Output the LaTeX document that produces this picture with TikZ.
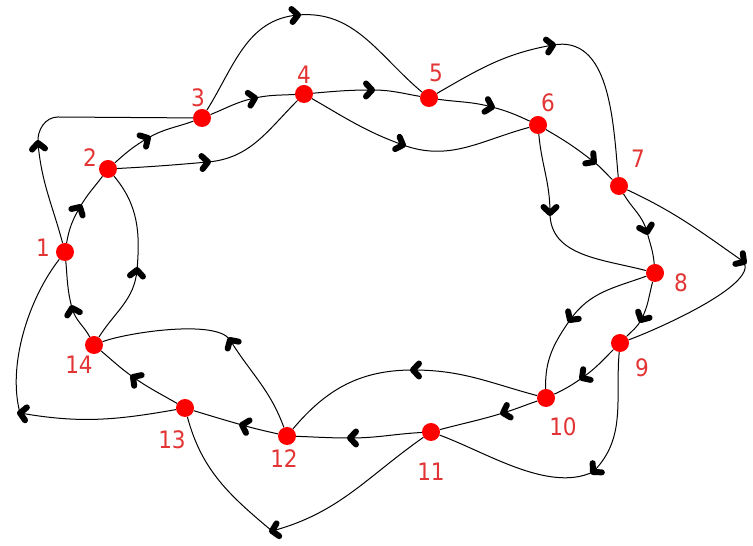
\documentclass[tikz,border=0pt]{standalone}
\usepackage{fontspec}
\newfontfamily\lblfont{DejaVu Sans Condensed}
\definecolor{lblred}{RGB}{226,52,52}
\pgfdeclarelayer{bg}
\pgfsetlayers{bg,main}
\tikzset{
  dot/.style={circle,fill=red,minimum size=18pt,inner sep=0pt},
  lbl/.style={text=lblred,font=\lblfont\fontsize{24}{24}\selectfont,inner sep=0pt,anchor=center},
  wire/.style={line width=1pt,black},
  chev/.pic={\draw[black,line width=6pt,line cap=round,line join=round] (-6,6.5) -- (0,0) -- (-6,-6.5);},
}
\begin{document}
\begin{tikzpicture}[x=1pt,y=1pt]
\useasboundingbox (0,0) rectangle (753,546);
% nodes
\node[dot] (n1) at (65,294) {};
\node[dot] (n2) at (108,377) {};
\node[dot] (n3) at (202,428) {};
\node[dot] (n4) at (304,452) {};
\node[dot] (n5) at (429,448) {};
\node[dot] (n6) at (538,421) {};
\node[dot] (n7) at (619,360) {};
\node[dot] (n8) at (655,273) {};
\node[dot] (n9) at (620,203) {};
\node[dot] (n10) at (546,148) {};
\node[dot] (n11) at (431,114) {};
\node[dot] (n12) at (287,110) {};
\node[dot] (n13) at (185,138) {};
\node[dot] (n14) at (94,201) {};
% labels
\node[lbl] (l1) at (43,298) {1};
\node[lbl] (l2) at (90,388) {2};
\node[lbl] (l3) at (198,448) {3};
\node[lbl] (l4) at (304,471) {4};
\node[lbl] (l5) at (436,473) {5};
\node[lbl] (l6) at (548,443) {6};
\node[lbl] (l7) at (638,387) {7};
\node[lbl] (l8) at (681,263) {8};
\node[lbl] (l9) at (642,178) {9};
\node[lbl] (l10) at (563,119) {10};
\node[lbl] (l11) at (431,74) {11};
\node[lbl] (l12) at (284,87) {12};
\node[lbl] (l13) at (172,106) {13};
\node[lbl] (l14) at (79,181) {14};
% arrow points, direct edges
\coordinate (a12) at (80,339);
\coordinate (a23) at (148,408);
\coordinate (a34) at (255,448);
\coordinate (a45) at (372,456);
\coordinate (a56) at (492,439);
\coordinate (a67) at (594,384);
\coordinate (a78) at (647,314);
\coordinate (a89) at (641,226);
\coordinate (a910) at (582,168);
\coordinate (a1011) at (503,133);
\coordinate (a1112) at (350,108);
\coordinate (a1213) at (242,121);
\coordinate (a1314) at (133,169);
\coordinate (a141) at (72,238);
% arrow points, skip edges
\coordinate (b13) at (38,403);
\coordinate (c13) at (58,429);
\coordinate (b24) at (208,384);
\coordinate (b35) at (298,531);
\coordinate (b46) at (403,401);
\coordinate (b57) at (553,501);
\coordinate (b68) at (550,333);
\coordinate (b79) at (744,284);
\coordinate (b810) at (570,226);
\coordinate (b911) at (593,74);
\coordinate (b1012) at (413,176);
\coordinate (b1113) at (272,15);
\coordinate (b1214) at (230,206);
\coordinate (b131) at (20,133);
\coordinate (b142) at (137,276);
\begin{pgfonlayer}{bg}
% direct edges
\draw[wire] (n1) to[out=80,in=240] (a12) to[out=60,in=233] (n2);
\draw[wire] (n2) to[out=42,in=210] (a23) to[out=30,in=200] (n3);
\draw[wire] (n3) to[out=22,in=192] (a34) to[out=12,in=183] (n4);
\draw[wire] (n4) to[out=5,in=180] (a45) to[out=0,in=170] (n5);
\draw[wire] (n5) to[out=-8,in=165] (a56) to[out=-15,in=155] (n6);
\draw[wire] (n6) to[out=-30,in=142] (a67) to[out=-38,in=136] (n7);
\draw[wire] (n7) to[out=-60,in=105] (a78) to[out=-75,in=95] (n8);
\draw[wire] (n8) to[out=255,in=62] (a89) to[out=242,in=45] (n9);
\draw[wire] (n9) to[out=225,in=35] (a910) to[out=215,in=25] (n10);
\draw[wire] (n10) to[out=199,in=17] (a1011) to[out=197,in=15] (n11);
\draw[wire] (n11) to[out=183,in=0] (a1112) to[out=180,in=358] (n12);
\draw[wire] (n12) to[out=167,in=344] (a1213) to[out=164,in=343] (n13);
\draw[wire] (n13) to[out=150,in=325] (a1314) to[out=145,in=320] (n14);
\draw[wire] (n14) to[out=118,in=285] (a141) to[out=105,in=275] (n1);
% skip edges
\draw[wire] (n1) to[out=105,in=275] (b13) to[out=95,in=180] (c13) -- (n3);
\draw[wire] (n2) to[out=3,in=185] (b24) to[out=5,in=225] (n4);
\draw[wire] (n3) to[out=58,in=185] (b35) to[out=5,in=140] (n5);
\draw[wire] (n4) to[out=-30,in=160] (b46) to[out=-20,in=195] (n6);
\draw[wire] (n5) to[out=30,in=190] (b57) to[out=10,in=95] (n7);
\draw[wire] (n6) to[out=-85,in=90] (b68) to[out=-90,in=165] (n8);
\draw[wire] (n7) to[out=-25,in=145] (b79) to[out=-60,in=20,looseness=0.5] (n9);
\draw[wire] (n8) to[out=200,in=55] (b810) to[out=235,in=92] (n10);
\draw[wire] (n9) to[out=265,in=45] (b911) to[out=205,in=340,looseness=0.8] (n11);
\draw[wire] (n10) to[out=165,in=0] (b1012) to[out=180,in=50] (n12);
\draw[wire] (n11) to[out=215,in=15] (b1113) to[out=140,in=285] (n13);
\draw[wire] (n12) to[out=110,in=302] (b1214) to[out=122,in=21,looseness=0.5] (n14);
\draw[wire] (n13) to[out=190,in=350] (b131) to[out=105,in=232,looseness=0.8] (n1);
\draw[wire] (n14) to[out=58,in=265] (b142) to[out=85,in=310] (n2);
\end{pgfonlayer}
% arrowheads
\pic[rotate=60] at (a12) {chev};
\pic[rotate=30] at (a23) {chev};
\pic[rotate=12] at (a34) {chev};
\pic[rotate=0] at (a45) {chev};
\pic[rotate=-15] at (a56) {chev};
\pic[rotate=-38] at (a67) {chev};
\pic[rotate=-75] at (a78) {chev};
\pic[rotate=242] at (a89) {chev};
\pic[rotate=215] at (a910) {chev};
\pic[rotate=197] at (a1011) {chev};
\pic[rotate=180] at (a1112) {chev};
\pic[rotate=164] at (a1213) {chev};
\pic[rotate=145] at (a1314) {chev};
\pic[rotate=105] at (a141) {chev};
\pic[rotate=95] at (b13) {chev};
\pic[rotate=5] at (b24) {chev};
\pic[rotate=5] at (b35) {chev};
\pic[rotate=-20] at (b46) {chev};
\pic[rotate=10] at (b57) {chev};
\pic[rotate=-90] at (b68) {chev};
\pic[rotate=-35] at (b79) {chev};
\pic[rotate=235] at (b810) {chev};
\pic[rotate=225] at (b911) {chev};
\pic[rotate=180] at (b1012) {chev};
\pic[rotate=192] at (b1113) {chev};
\pic[rotate=122] at (b1214) {chev};
\pic[rotate=172] at (b131) {chev};
\pic[rotate=85] at (b142) {chev};
\end{tikzpicture}
\end{document}
